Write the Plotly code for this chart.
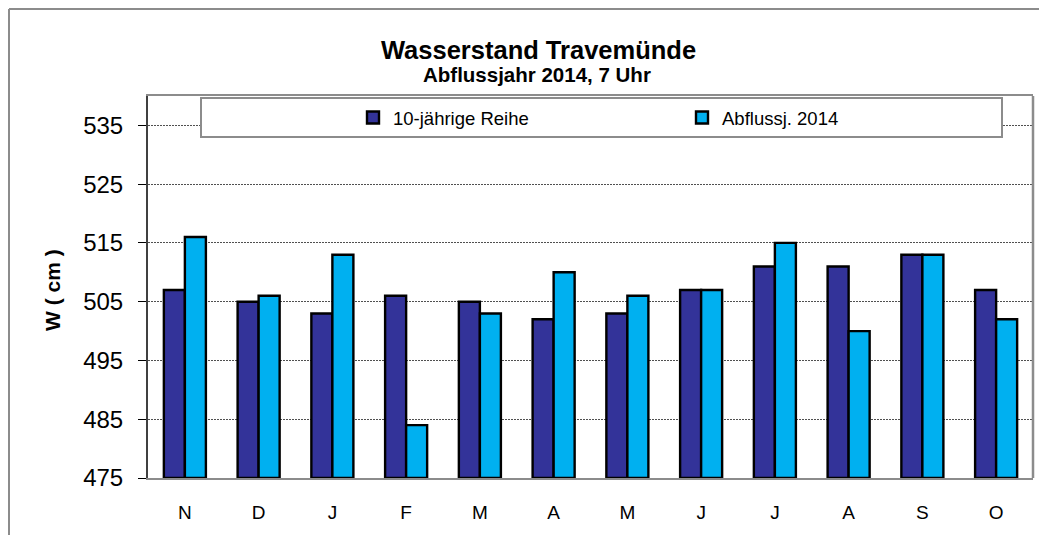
import plotly.graph_objects as go

months = ["N", "D", "J", "F", "M", "A", "M", "J", "J", "A", "S", "O"]
reihe_10 = [507, 505, 503, 506, 505, 502, 503, 507, 511, 511, 513, 507]
abfluss_2014 = [516, 506, 513, 484, 503, 510, 506, 507, 515, 500, 513, 502]
y_ticks = [475, 485, 495, 505, 515, 525, 535]
y_min, y_max = 475, 540

# the page body has an 8px margin: the figure is drawn at screen offset (8, 8)
OFF = 8
W, H = 1047 - 2 * OFF, 543 - 2 * OFF
L, R, T, B = 148 - OFF, 1033 - OFF, 96 - OFF, 478 - OFF
pw, ph = R - L, B - T

def px(x):
    return (x - OFF - L) / pw

def py(y):
    return (B - (y - OFF)) / ph

xs = list(range(len(months)))

fig = go.Figure()
fig.add_trace(go.Bar(x=xs, y=[v - y_min for v in reihe_10], base=y_min, name="10-jährige Reihe",
                     marker=dict(color="#333399", line=dict(color="black", width=2.4)),
                     legend="legend"))
fig.add_trace(go.Bar(x=xs, y=[v - y_min for v in abfluss_2014], base=y_min, name="Abflussj. 2014",
                     marker=dict(color="#00B0F0", line=dict(color="black", width=2.4)),
                     legend="legend2"))

leg_common = dict(orientation="h", yanchor="middle", xanchor="left",
                  bgcolor="rgba(0,0,0,0)", borderwidth=0, font=dict(size=18.5), itemwidth=30)

fig.update_layout(
    width=W, height=H,
    margin=dict(l=L, r=W - R, t=T, b=H - B, pad=0),
    paper_bgcolor="white", plot_bgcolor="white",
    barmode="group", bargap=0.43, bargroupgap=0,
    font=dict(family="Liberation Sans, Arial", color="black"),
    showlegend=True,
    legend=dict(x=px(353), y=py(118), **leg_common),
    legend2=dict(x=px(682), y=py(118), **leg_common),
)

fig.update_xaxes(range=[-0.5, 11.5], tickmode="array", tickvals=xs, ticktext=months,
                 showgrid=False, showline=True, linecolor="#8c8c8c", linewidth=2, mirror=True,
                 ticks="", tickfont=dict(size=19), ticklabelstandoff=16)
fig.update_yaxes(range=[y_min, y_max], tickmode="array", tickvals=y_ticks,
                 showgrid=True, gridcolor="#505050", griddash="2px,1px", gridwidth=1,
                 showline=True, linecolor="#404040", linewidth=2, mirror=False,
                 ticks="outside", ticklen=8, tickcolor="black", tickwidth=1,
                 tickfont=dict(size=24), zeroline=False, ticklabelstandoff=10)

shapes = [
    # outer chart border: only its top and left edges are inside the picture
    dict(type="line", xref="paper", yref="paper", x0=px(9), x1=px(1039), y0=py(9), y1=py(9),
         line=dict(color="#8c8c8c", width=2)),
    dict(type="line", xref="paper", yref="paper", x0=px(9), x1=px(9), y0=py(9), y1=py(535),
         line=dict(color="#8c8c8c", width=2)),
    # right plot border
    dict(type="line", xref="paper", yref="paper", x0=1, x1=1, y0=0, y1=1,
         line=dict(color="#8c8c8c", width=2.5)),
    # legend box
    dict(type="rect", xref="paper", yref="paper", x0=px(201), x1=px(1002), y0=py(137), y1=py(98),
         line=dict(color="#8c8c8c", width=2), fillcolor="white", layer="above"),
]
fig.update_layout(shapes=shapes)

fig.add_annotation(text="<b>Wasserstand Travemünde</b>", xref="paper", yref="paper",
                   x=px(538), y=py(50), showarrow=False, font=dict(size=25.5), xanchor="center", yanchor="middle")
fig.add_annotation(text="<b>Abflussjahr 2014, 7 Uhr</b>", xref="paper", yref="paper",
                   x=px(537), y=py(75), showarrow=False, font=dict(size=20.5), xanchor="center", yanchor="middle")
fig.add_annotation(text="<b>W ( cm )</b>", xref="paper", yref="paper", textangle=-90,
                   x=px(52), y=py(290), showarrow=False, font=dict(size=21), xanchor="center", yanchor="middle")

fig.write_html("out.html")
